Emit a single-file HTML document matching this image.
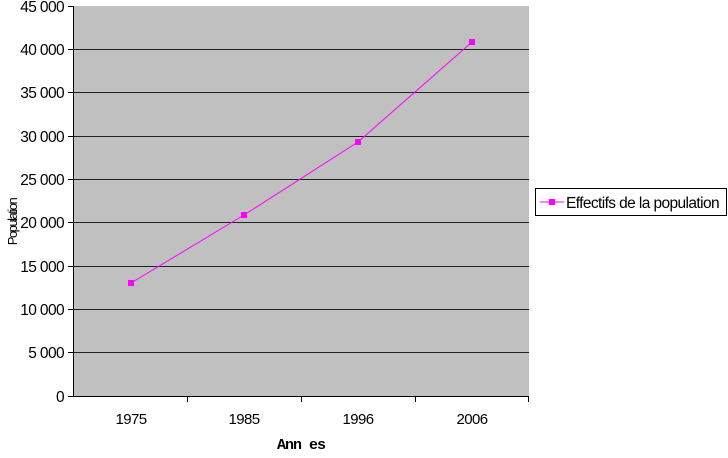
<!DOCTYPE html>
<html><head><style>body{margin:0;background:#fff}</style></head><body>
<svg width="728" height="453" xmlns="http://www.w3.org/2000/svg" font-family="Liberation Sans, sans-serif">
<rect x="74" y="6" width="455" height="390" fill="#c0c0c0"/>
<g stroke="#222" stroke-width="1">
<line x1="74" y1="49.5" x2="529" y2="49.5"/>
<line x1="74" y1="92.5" x2="529" y2="92.5"/>
<line x1="74" y1="136.5" x2="529" y2="136.5"/>
<line x1="74" y1="179.5" x2="529" y2="179.5"/>
<line x1="74" y1="222.5" x2="529" y2="222.5"/>
<line x1="74" y1="266.5" x2="529" y2="266.5"/>
<line x1="74" y1="309.5" x2="529" y2="309.5"/>
<line x1="74" y1="352.5" x2="529" y2="352.5"/>
</g>
<g stroke="#000" stroke-width="1">
<line x1="73.5" y1="6" x2="73.5" y2="396"/>
<line x1="73" y1="396.5" x2="529" y2="396.5"/>
<line x1="68" y1="6.5" x2="74" y2="6.5"/><line x1="68" y1="49.5" x2="74" y2="49.5"/><line x1="68" y1="92.5" x2="74" y2="92.5"/><line x1="68" y1="136.5" x2="74" y2="136.5"/><line x1="68" y1="179.5" x2="74" y2="179.5"/><line x1="68" y1="222.5" x2="74" y2="222.5"/><line x1="68" y1="266.5" x2="74" y2="266.5"/><line x1="68" y1="309.5" x2="74" y2="309.5"/><line x1="68" y1="352.5" x2="74" y2="352.5"/><line x1="68" y1="396.5" x2="74" y2="396.5"/>
<line x1="187.5" y1="396" x2="187.5" y2="402"/><line x1="301.5" y1="396" x2="301.5" y2="402"/><line x1="415.5" y1="396" x2="415.5" y2="402"/><line x1="528.5" y1="396" x2="528.5" y2="402"/>
</g>
<g font-size="15.5" text-anchor="end" fill="#000" letter-spacing="-0.6">
<text x="64" y="12">45 000</text><text x="64" y="55">40 000</text><text x="64" y="98">35 000</text><text x="64" y="142">30 000</text><text x="64" y="185">25 000</text><text x="64" y="228">20 000</text><text x="64" y="272">15 000</text><text x="64" y="315">10 000</text><text x="64" y="358">5 000</text><text x="64" y="402">0</text>
</g>
<g font-size="15" text-anchor="middle" letter-spacing="-0.6">
<text x="131" y="424">1975</text><text x="244" y="424">1985</text><text x="358" y="424">1996</text><text x="472" y="424">2006</text>
</g>
<text x="301" y="449" font-size="15" font-weight="bold" font-family="Liberation Mono, monospace" text-anchor="middle" letter-spacing="-1">Ann es</text>
<text transform="translate(17,222) rotate(-90)" font-size="13" text-anchor="middle" letter-spacing="-1.5">Population</text>
<polyline points="131,283 244,215 358,142 472,42" fill="none" stroke="#ff00ff" stroke-width="1"/>
<g fill="#ff00ff"><rect x="128" y="280" width="6" height="6"/><rect x="241" y="212" width="6" height="6"/><rect x="355" y="139" width="6" height="6"/><rect x="469" y="39" width="6" height="6"/></g>
<rect x="535.5" y="188.5" width="191" height="27" fill="#fff" stroke="#000"/>
<line x1="540" y1="202" x2="564" y2="202" stroke="#ff00ff"/><rect x="549" y="199" width="6" height="6" fill="#ff00ff"/>
<text x="566" y="208" font-size="15.5" letter-spacing="-0.6">Effectifs de la population</text>
</svg>
</body></html>
